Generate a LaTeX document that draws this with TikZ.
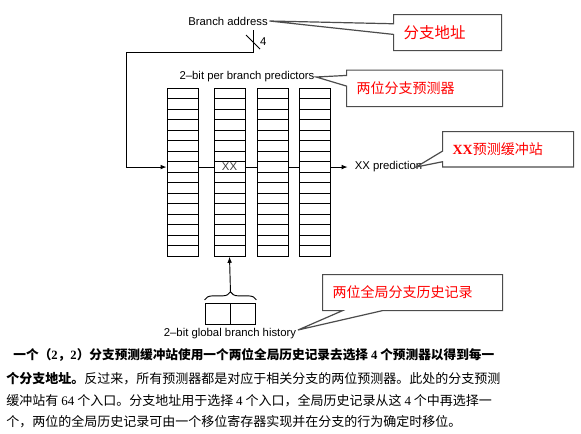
\documentclass[tikz,border=0pt]{standalone}
\usepackage{fontspec}
\setmainfont{Liberation Sans}
\newfontfamily\cjk{Noto Sans CJK SC}
\newfontfamily\tms{Liberation Serif}
\usetikzlibrary{arrows.meta,positioning,calc,shapes.callouts,decorations.pathreplacing}
\tikzset{
  cell/.style={rectangle,draw,minimum width=23.25pt,minimum height=7.875pt,inner sep=0pt},
  lbl/.style={font=\fontsize{8.5}{10}\selectfont,inner sep=1pt},
  note/.style={rectangle callout,draw=black!70,line width=0.9pt,fill=white,text=red,anchor=north west,align=left,inner xsep=7.5pt,inner ysep=0pt,callout pointer width=8pt,font=\cjk\fontsize{10.5}{12}\selectfont},
  body/.style={anchor=west,inner sep=0pt,font=\cjk\fontsize{9.75}{12}\selectfont},
}
\begin{document}
\begin{tikzpicture}[x=0.75pt,y=-0.75pt,line width=0.7pt,>={Latex[length=4.5pt,width=3.5pt]}]
  \useasboundingbox (0,0) rectangle (581,433);
  \foreach \col/\x in {1/182.5,2/229.5,3/272.5,4/314.5}
    \foreach \row in {1,...,16}
      \node[cell] (c\col-\row) at (\x,{88.3+(\row-0.5)*10.5}) {};
  \node[lbl,text=black!75] (xx) at (c2-8) {XX};
  \node[lbl] (addr) at (228,21) {Branch address};
  \node[lbl] (pb) at (247,77) {2--bit per branch predictors};
  \node[lbl,anchor=west] (pred) at (353,167.05) {XX prediction};
  \coordinate (tap) at (253,30);
  \coordinate (bend) at (126,52);
  \coordinate (cut) at (253,42);
  \draw[->] (tap) |- (bend) |- (c1-8.west);
  \draw ($(cut)+(-7,-7)$) -- ($(cut)+(7,7)$);
  \node[lbl,right=4pt of cut] (w) {4};
  \draw (c1-8.east) -- (c2-8.west) (c2-8.east) -- (c3-8.west) (c3-8.east) -- (c4-8.west);
  \draw[->,shorten >=4pt] (c4-8.east) -- (pred.west);
  \node[cell,minimum width=18.75pt,minimum height=15.75pt] (h1) at (217.5,313.5) {};
  \node[cell,minimum width=18.75pt,minimum height=15.75pt,right=0pt of h1] (h2) {};
  \draw[decorate,decoration={brace,amplitude=6pt}] ([yshift=2pt]h1.north west) -- ([yshift=2pt]h2.north east);
  \coordinate (tip) at ([yshift=8pt]h1.north east);
  \draw[->] (tip) -- (c2-16.south);
  \node[lbl] (gbh) at (230,334) {2--bit global branch history};
  \node[note,text width=66pt,minimum height=27pt,callout absolute pointer={(addr.east)}] (cA) at (393,14) {\fontsize{11.6}{14}\selectfont 分支地址};
  \node[note,text width=102pt,minimum height=27.4pt,callout absolute pointer={(pb.east)}] (cB) at (346,69.5) {两位分支预测器};
  \node[note,text width=83.25pt,minimum height=26.6pt,callout absolute pointer={([xshift=-6pt]pred.east)}] (cC) at (442,131) {{\tms\bfseries XX}预测缓冲站};
  \node[note,text width=120pt,minimum height=27pt,callout pointer width=30pt,callout absolute pointer={([yshift=3pt]gbh.east)}] (cD) at (322,274) {两位全局分支历史记录};
  \node[body,font=\cjk\bfseries\fontsize{9.5}{12}\selectfont] (p1) at (13,355) {一个（{\tms 2}，{\tms 2}）分支预测缓冲站使用一个两位全局历史记录去选择 {\tms 4} 个预测器以得到每一};
  \node[body] (p2) at (6,379) {{\bfseries 个分支地址。}反过来，所有预测器都是对应于相关分支的两位预测器。此处的分支预测};
  \node[body] (p3) at (6,401) {缓冲站有 {\tms 64} 个入口。分支地址用于选择 {\tms 4} 个入口，全局历史记录从这 {\tms 4} 个中再选择一};
  \node[body] (p4) at (6,422) {个，两位的全局历史记录可由一个移位寄存器实现并在分支的行为确定时移位。};
\end{tikzpicture}
\end{document}
